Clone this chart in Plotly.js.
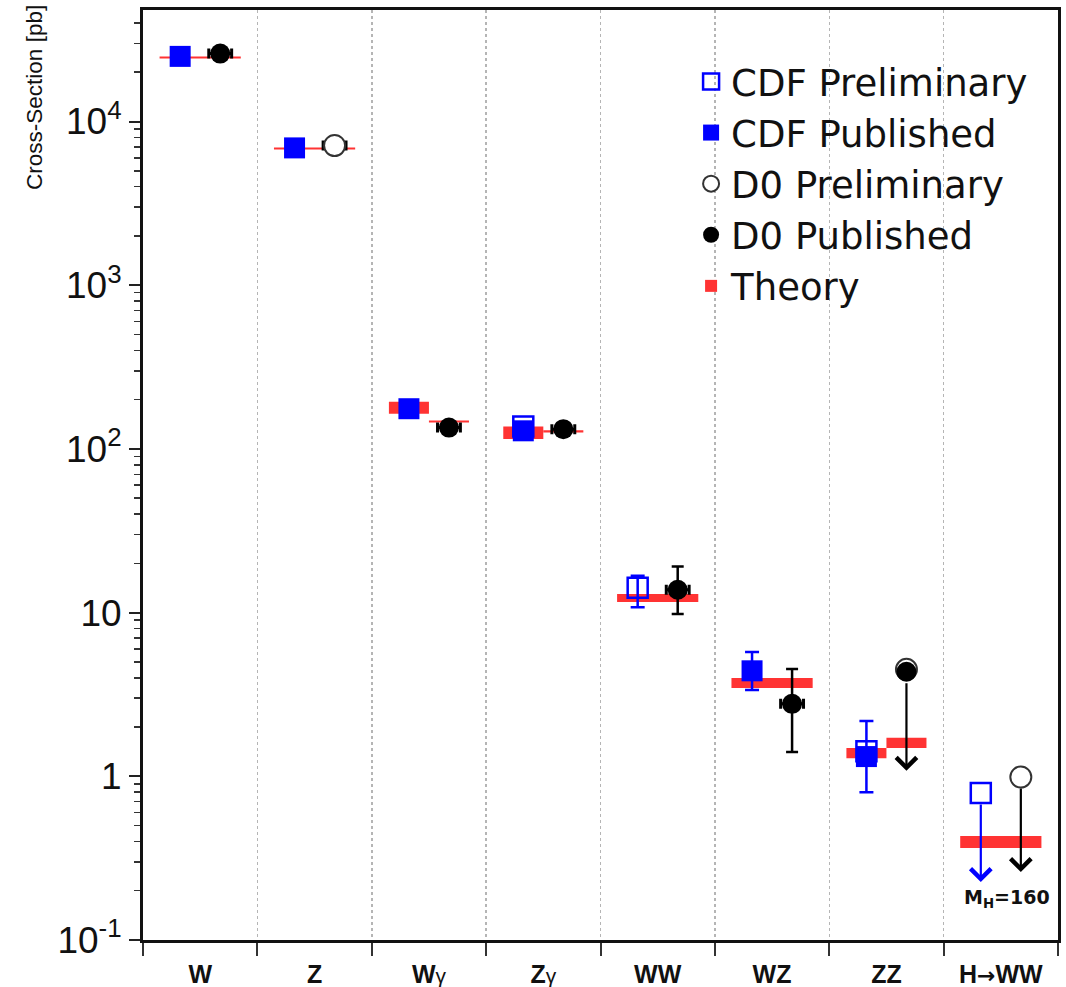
<!DOCTYPE html>
<html>
<head>
<meta charset="utf-8">
<script src="https://cdn.plot.ly/plotly-3.0.1.min.js"></script>
<style>html,body{margin:0;padding:0;background:#fff;}#chart{width:1066px;height:987px;}</style>
</head>
<body>
<div id="chart"></div>
<script>
// ---- categories ----
var categories = ["W", "Z", "W\u03b3", "Z\u03b3", "WW", "WZ", "ZZ", "H\u2192WW"];

// ---- CDF Preliminary (open blue squares) ----
var cdfPrelimCat = [3, 4, 6, 7];
var cdfPrelimVal = [137, 14.2, 1.42, 0.79];
var cdfPrelimHi  = [137, 16.8, 1.42, 0.79];
var cdfPrelimLo  = [137, 10.8, 1.42, 0.79];

// ---- CDF Published (filled blue squares) ----
var cdfPubCat = [0, 1, 2, 3, 5, 6];
var cdfPubVal = [25000, 6900, 176, 129, 4.41, 1.32];
var cdfPubHi  = [25000, 6900, 176, 129, 5.75, 2.18];
var cdfPubLo  = [25000, 6900, 176, 129, 3.37, 0.80];

// ---- D0 Preliminary (open black circles) ----
var d0PrelimCat = [1, 6, 7];
var d0PrelimVal = [7130, 4.5, 0.99];
var d0PrelimXerr = [0.1, NaN, NaN];

// ---- D0 Published (filled black circles) ----
var d0PubCat = [0, 2, 3, 4, 5, 6];
var d0PubVal = [26000, 135, 132, 13.8, 2.77, 4.35];
var d0PubHi  = [26000, 135, 132, 19.1, 4.53, 4.35];
var d0PubLo  = [26000, 135, 132, 9.8, 1.41, 4.35];
var d0PubXerr = [0.1, 0.1, 0.1, 0.1, 0.1, NaN];

// ---- upper limits (arrows) ----
var limitCat  = [6, 7, 7];
var limitExp  = ["D0", "CDF", "D0"];
var limitVal  = [4.35, 0.79, 0.99];
var limitTip  = [1.08, 0.226, 0.26];

// ---- Theory (band low / high), side: all / CDF / D0 ----
var theoryCat  = [0, 1, 2, 2, 3, 3, 4, 5, 6, 6, 7];
var theorySide = ["all", "all", "CDF", "D0", "CDF", "D0", "all", "all", "CDF", "D0", "all"];
var theoryLo   = [24250, 6740, 164, 145, 115, 126, 11.6, 3.46, 1.29, 1.49, 0.365];
var theoryHi   = [24950, 6940, 194, 149, 137, 130, 13.0, 3.99, 1.49, 1.72, 0.432];

// ---- tick labels ----
var yTickVals = [0.1, 1, 10, 100, 1000, 10000];
var yTickText = ["10<sup>-1</sup>", "1", "10", "10<sup>2</sup>", "10<sup>3</sup>", "10<sup>4</sup>"];

var OFF = 0.175;
function pos(cats, side) { return cats.map(function (c) { return c + (side === "CDF" ? -OFF : OFF); }); }
function diff(a, b) { return a.map(function (v, i) { return v - b[i]; }); }
function errDiff(a, b) { return a.map(function (v, i) { var d = v - b[i]; return d > 0 ? d : NaN; }); }

var theoryX = theoryCat.map(function (c, i) {
  return theorySide[i] === "all" ? c : (theorySide[i] === "CDF" ? c - OFF : c + OFF);
});
var theoryW = theorySide.map(function (s) { return s === "all" ? 0.71 : 0.35; });

var tickText = categories.map(function (c) {
  return c.replace("\u03b3", "<span style='font-weight:normal;font-size:21px'>\u03b3</span>")
          .replace("\u2192", "<span style='font-family:DejaVu Sans;font-size:22px'>\u2192</span>");
});

var blue = "#0000ff";
var red = "#ff3333";

var traces = [
  {
    type: "bar", name: "Theory", x: theoryX, base: theoryLo, y: diff(theoryHi, theoryLo),
    width: theoryW, marker: {color: red, line: {width: 0}}, legendrank: 5, legendgroup: "th",
    hoverinfo: "skip"
  },
  {
    type: "scatter", mode: "markers", name: "CDF Preliminary", x: pos(cdfPrelimCat, "CDF"), y: cdfPrelimVal,
    marker: {symbol: "square-open", size: 20, color: blue, line: {width: 2.5, color: blue}},
    error_y: {type: "data", symmetric: false, array: errDiff(cdfPrelimHi, cdfPrelimVal), arrayminus: errDiff(cdfPrelimVal, cdfPrelimLo),
              color: blue, thickness: 2.5, width: 7},
    legendrank: 1, legendgroup: "a"
  },
  {
    type: "scatter", mode: "markers", name: "CDF Published", x: pos(cdfPubCat, "CDF"), y: cdfPubVal,
    marker: {symbol: "square", size: 21, color: blue},
    error_y: {type: "data", symmetric: false, array: errDiff(cdfPubHi, cdfPubVal), arrayminus: errDiff(cdfPubVal, cdfPubLo),
              color: blue, thickness: 2.5, width: 7},
    legendrank: 2, legendgroup: "b"
  },
  {
    type: "scatter", mode: "markers", name: "D0 Preliminary", x: pos(d0PrelimCat, "D0"), y: d0PrelimVal,
    marker: {symbol: "circle", size: 21, color: "#ffffff", line: {width: 2, color: "#333"}},
    error_x: {type: "data", array: d0PrelimXerr, color: "#000", thickness: 3, width: 5},
    legendrank: 3, legendgroup: "c"
  },
  {
    type: "scatter", mode: "markers", name: "D0 Published", x: pos(d0PubCat, "D0"), y: d0PubVal,
    marker: {symbol: "circle", size: 20, color: "#000"},
    error_y: {type: "data", symmetric: false, array: errDiff(d0PubHi, d0PubVal), arrayminus: errDiff(d0PubVal, d0PubLo),
              color: "#000", thickness: 2.5, width: 6},
    error_x: {type: "data", array: d0PubXerr, color: "#000", thickness: 3, width: 5},
    legendrank: 4, legendgroup: "d"
  }
];

var annotations = [];
for (var i = 0; i < limitCat.length; i++) {
  var lx = limitCat[i] + (limitExp[i] === "CDF" ? -OFF : OFF);
  annotations.push({
    x: lx, y: Math.log10(limitTip[i]), xref: "x", yref: "y",
    ax: lx, ay: Math.log10(limitVal[i]), axref: "x", ayref: "y",
    text: "", showarrow: true, arrowhead: 4, arrowsize: 1.8, arrowwidth: 2.2,
    arrowcolor: limitExp[i] === "CDF" ? blue : "#000", standoff: 0, startstandoff: 10
  });
}
annotations.push({
  text: "Cross-Section [pb]", xref: "paper", yref: "paper", x: -0.118, y: 0.9055,
  xanchor: "center", yanchor: "middle", textangle: -90, showarrow: false,
  font: {family: "Liberation Sans, Arial, sans-serif", size: 22.5, color: "#111"}
});
annotations.push({
  text: "M<sub>H</sub>=160", xref: "x", yref: "y", x: 7.05, y: -0.745,
  xanchor: "center", yanchor: "middle", showarrow: false,
  font: {family: "DejaVu Sans, sans-serif", size: 19, color: "#111", weight: "bold"}
});

var minorVals = [];
for (var d = -1; d <= 4; d++) {
  for (var k = 2; k <= 9; k++) {
    var v = k * Math.pow(10, d);
    if (v < 48000) minorVals.push(v);
  }
}

var layout = {
  width: 1066, height: 987,
  margin: {l: 143, r: 8, t: 10, b: 47},
  paper_bgcolor: "#ffffff", plot_bgcolor: "#ffffff",
  showlegend: true,
  barmode: "overlay",
  xaxis: {
    range: [-0.5, 7.5], tickmode: "array", tickvals: [0, 1, 2, 3, 4, 5, 6, 7], ticktext: tickText,
    ticks: "", showgrid: false, zeroline: false,
    showline: true, linewidth: 3, linecolor: "#111", mirror: true,
    tickfont: {family: "Liberation Sans, Arial, sans-serif", size: 25, color: "#111", weight: "bold"},
    ticklabelstandoff: 10,
    minor: {tickmode: "array", tickvals: [-0.5, 0.5, 1.5, 2.5, 3.5, 4.5, 5.5, 6.5, 7.5],
            ticks: "outside", ticklen: 13, tickwidth: 2, tickcolor: "#333",
            showgrid: true, gridcolor: "#b5b5b5", gridwidth: 1.5, griddash: "dot"}
  },
  yaxis: {
    type: "log", range: [-1, Math.log10(48000)],
    tickmode: "array", tickvals: yTickVals, ticktext: yTickText,
    ticks: "outside", ticklen: 11, tickwidth: 2, tickcolor: "#222",
    showgrid: false, zeroline: false,
    showline: true, linewidth: 3, linecolor: "#111", mirror: true,
    tickfont: {family: "Liberation Sans, Arial, sans-serif", size: 37, color: "#111"},
    minor: {tickmode: "array", tickvals: minorVals, ticks: "outside", ticklen: 6, tickwidth: 1.5, tickcolor: "#333", showgrid: false}
  },
  legend: {
    x: 0.599, y: 0.956, xanchor: "left", yanchor: "top",
    bgcolor: "rgba(0,0,0,0)", borderwidth: 0,
    font: {family: "DejaVu Sans, sans-serif", size: 37, color: "#111"},
    traceorder: "grouped", tracegroupgap: 0, itemwidth: 30
  },
  annotations: annotations
};

Plotly.newPlot("chart", traces, layout, {displayModeBar: false, staticPlot: true});
</script>
</body>
</html>
